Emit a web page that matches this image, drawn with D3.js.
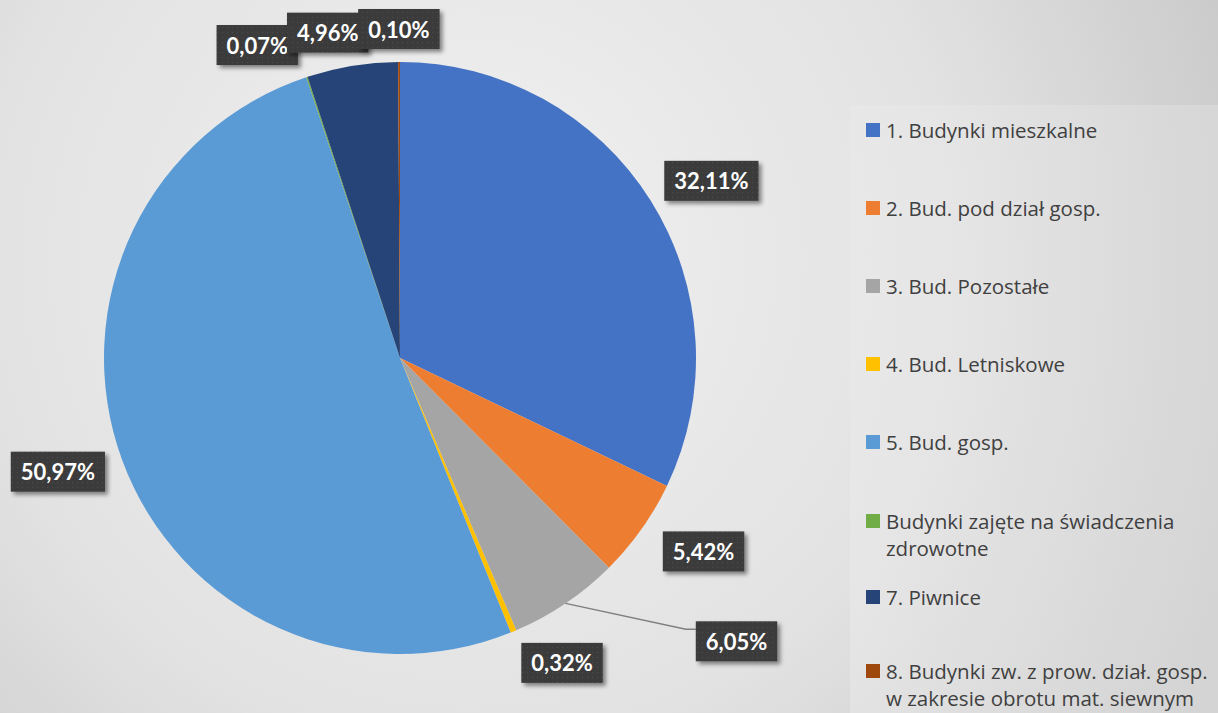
<!DOCTYPE html>
<html><head><meta charset="utf-8">
<script src="https://cdn.jsdelivr.net/npm/d3@7"></script>
<style>html,body{margin:0;padding:0;overflow:hidden;background:#e4e4e4}</style>
</head><body>
<script>
// ---- data ----
const categories = [
  "1. Budynki mieszkalne",
  "2. Bud. pod dział gosp.",
  "3. Bud. Pozostałe",
  "4. Bud. Letniskowe",
  "5. Bud. gosp.",
  "Budynki zajęte na świadczenia zdrowotne",
  "7. Piwnice",
  "8. Budynki zw. z prow. dział. gosp. w zakresie obrotu mat. siewnym"
];
const legendLines = [
  ["1. Budynki mieszkalne"],
  ["2. Bud. pod dział gosp."],
  ["3. Bud. Pozostałe"],
  ["4. Bud. Letniskowe"],
  ["5. Bud. gosp."],
  ["Budynki zajęte na świadczenia", "zdrowotne"],
  ["7. Piwnice"],
  ["8. Budynki zw. z prow. dział. gosp.", "w zakresie obrotu mat. siewnym"]
];
const values = [32.11, 5.42, 6.05, 0.32, 50.97, 0.07, 4.96, 0.10];
const colors = ["#4472C4", "#ED7D31", "#A5A5A5", "#FFC000", "#5B9BD5", "#70AD47", "#264478", "#9E480E"];

// ---- layout (label nudges from the mid-angle anchor) ----
const labelNudge = [[11,12],[14,-12],[138,-11],[26,-23],[-9,-9],[-31,24],[-15,25],[0,26]];
const W = 1218, H = 713, cx = 400, cy = 358, R = 296, labelR = 355;

const svg = d3.select("body").append("svg").attr("width", W).attr("height", H);
const defs = svg.append("defs");
const bg = defs.append("radialGradient").attr("id","bg").attr("gradientUnits","userSpaceOnUse")
  .attr("cx",470).attr("cy",260).attr("r",820);
bg.append("stop").attr("offset","0%").attr("stop-color","#f1f1f1");
bg.append("stop").attr("offset","60%").attr("stop-color","#e2e2e2");
bg.append("stop").attr("offset","100%").attr("stop-color","#c9c9c9");
const lg = defs.append("linearGradient").attr("id","lg").attr("x1","0").attr("x2","1").attr("y1","0").attr("y2","0");
lg.append("stop").attr("offset","0%").attr("stop-color","#ebebeb");
lg.append("stop").attr("offset","100%").attr("stop-color","#dfdfdf");
const pat = defs.append("pattern").attr("id","dots").attr("patternUnits","userSpaceOnUse").attr("width",5).attr("height",5);
pat.append("rect").attr("width",5).attr("height",5).attr("fill","#3a3a3a");
pat.append("rect").attr("x",2).attr("y",2).attr("width",1.2).attr("height",1.2).attr("fill","#4c4c4c");
const sh = defs.append("filter").attr("id","sh").attr("x","-20%").attr("y","-30%").attr("width","150%").attr("height","170%");
sh.append("feDropShadow").attr("dx",3).attr("dy",3).attr("stdDeviation",2.2).attr("flood-color","#000").attr("flood-opacity",0.45);

svg.append("rect").attr("width",W).attr("height",H).attr("fill","url(#bg)");
svg.append("rect").attr("x",850).attr("y",105).attr("width",W-850).attr("height",H-105).attr("fill","url(#lg)").attr("opacity",0.5);

// ---- pie ----
const pie = d3.pie().sort(null).value(d => d);
const arcs = pie(values);
const arc = d3.arc().innerRadius(0).outerRadius(R);
const g = svg.append("g").attr("transform", `translate(${cx},${cy})`);
g.selectAll("path").data(arcs).join("path").attr("d", arc).attr("fill", (d,i) => colors[i]);

// ---- labels ----
const fmt = v => d3.format(".2f")(v).replace(".", ",") + "%";
const lab = svg.append("g");
arcs.forEach((d, i) => {
  const a = (d.startAngle + d.endAngle) / 2;
  const x = cx + labelR * Math.sin(a) + labelNudge[i][0];
  const y = cy - labelR * Math.cos(a) + labelNudge[i][1];
  const ex = cx + R * Math.sin(a), ey = cy - R * Math.cos(a);
  const grp = lab.append("g");
  const t = grp.append("text").attr("x", x).attr("y", y).attr("text-anchor","middle")
    .attr("dominant-baseline","central").attr("font-family","Lato, 'Open Sans', sans-serif")
    .attr("font-weight","bold").attr("font-size",22).attr("fill","#fff").text(fmt(values[i]));
  const w = t.node().getComputedTextLength() + 20, h = 40;
  if (Math.hypot(x - ex, y - ey) > 100) {
    const bx = x - w / 2;
    lab.insert("path", ":first-child").attr("d", `M${ex},${ey}L${bx-10},${y-12}L${bx},${y-12}`)
      .attr("fill","none").attr("stroke","#7f7f7f").attr("stroke-width",1.5);
  }
  grp.insert("rect", "text").attr("x", x - w/2).attr("y", y - h/2).attr("width", w).attr("height", h)
    .attr("fill","url(#dots)").attr("filter","url(#sh)");
});

// ---- legend ----
const legendY = [130, 208, 286, 364, 442, 521, 597, 671];
const leg = svg.append("g");
legendLines.forEach((lines, i) => {
  leg.append("rect").attr("x", 866).attr("y", legendY[i] - 7).attr("width", 14).attr("height", 14).attr("fill", colors[i]);
  lines.forEach((ln, j) => {
    leg.append("text").attr("x", 886).attr("y", legendY[i] + j * 27).attr("dominant-baseline","central")
      .attr("font-family","'Open Sans', sans-serif").attr("font-size",20.5).attr("fill","#404040").text(ln);
  });
});
</script>
</body></html>
